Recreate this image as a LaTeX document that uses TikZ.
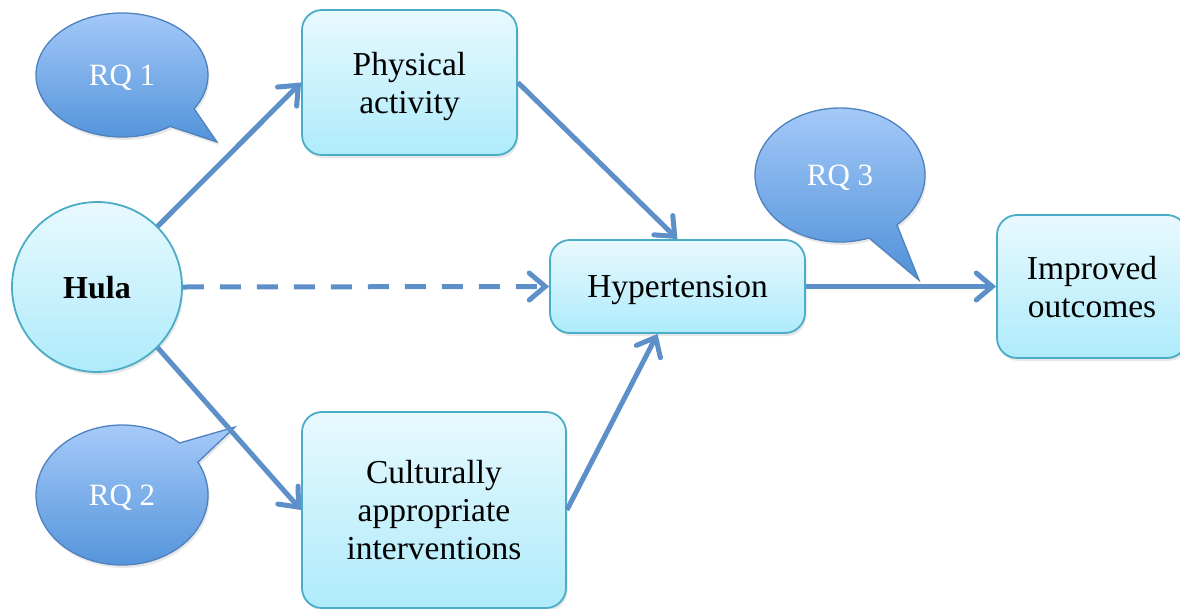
\documentclass[tikz,border=0pt]{standalone}
\usepackage{fontspec}
\setmainfont{Liberation Serif}
\usetikzlibrary{arrows.meta,shadows,calc}
\definecolor{lineblue}{RGB}{93,143,201}
\definecolor{boxborder}{RGB}{75,172,198}
\definecolor{boxtop}{RGB}{232,249,254}
\definecolor{boxbot}{RGB}{174,235,251}
\definecolor{bubtop}{RGB}{168,204,250}
\definecolor{bubbot}{RGB}{80,145,217}
\definecolor{bubborder}{RGB}{79,129,189}
\tikzset{
  boxnode/.style={draw=boxborder, line width=1.8pt, rounded corners=20pt,
    top color=boxtop, bottom color=boxbot, align=center, inner sep=0pt,
    text depth=0pt, font=\fontsize{33.5}{38}\selectfont,
    drop shadow={shadow xshift=1.5pt, shadow yshift=-3pt, opacity=0.18}},
  hulanode/.style={circle, draw=boxborder, line width=1.8pt,
    top color=boxtop, bottom color=boxbot, minimum size=170pt, inner sep=0pt,
    text depth=0pt, font=\fontsize{32}{38}\selectfont\bfseries,
    drop shadow={shadow xshift=1.5pt, shadow yshift=-3pt, opacity=0.18}},
  bubble/.style={draw=bubborder, line width=1.3pt, top color=bubtop, bottom color=bubbot,
    drop shadow={shadow xshift=1.5pt, shadow yshift=-3pt, opacity=0.18}},
  rqtext/.style={text=white, font=\fontsize{31}{36}\selectfont, inner sep=0pt, text depth=0pt},
  arr/.style={draw=lineblue, line width=5pt,
    -{Straight Barb[length=16pt,width=27pt,line cap=round]}},
  dasharr/.style={arr, dash pattern=on 21pt off 16pt}
}
\begin{document}
\begin{tikzpicture}[x=1pt,y=-1pt]
\useasboundingbox (0,0) rectangle (1180,608);
% nodes
\node[hulanode] (hula) at (97,287) {Hula};
\node[boxnode, minimum width=215pt, minimum height=145pt] (phys) at (409.5,82.5) {Physical\\activity};
\node[boxnode, minimum width=255pt, minimum height=93pt] (hyp) at (677.5,286.5) {Hypertension};
\node[boxnode, minimum width=190pt, minimum height=143pt] (impr) at (1092,286.5) {Improved\\outcomes};
\node[boxnode, minimum width=264pt, minimum height=196pt] (cult) at (434,510) {Culturally\\appropriate\\interventions};
% bubbles
\coordinate (c1) at (122,75);
\coordinate (t1) at (217,142);
\draw[bubble] ($(c1)+(33:86 and 62)$) -- (t1) -- ($(c1)+(56:86 and 62)$)
  arc[start angle=56, end angle=393, x radius=86, y radius=62] -- cycle;
\node[rqtext] (rq1) at (c1) {RQ 1};
\coordinate (c2) at (122,495);
\coordinate (t2) at (235,427);
\draw[bubble] ($(c2)+(-48:86 and 70)$) -- (t2) -- ($(c2)+(-28:86 and 70)$)
  arc[start angle=-28, end angle=312, x radius=86, y radius=70] -- cycle;
\node[rqtext] (rq2) at (c2) {RQ 2};
\coordinate (c3) at (840,175);
\coordinate (t3) at (919,280);
\draw[bubble] ($(c3)+(48:85 and 67)$) -- (t3) -- ($(c3)+(70:85 and 67)$)
  arc[start angle=70, end angle=408, x radius=85, y radius=67] -- cycle;
\node[rqtext] (rq3) at (c3) {RQ 3};
% connectors
\draw[arr] (hula.45) -- (phys.west);
\draw[arr] (hula.-45) -- (cult.west);
\draw[dasharr] (hula.east) -- (hyp.west);
\draw[arr] (phys.east) -- (hyp.north);
\draw[arr] (cult.east) -- ($(hyp.south)+(-20,0)$);
\draw[arr] (hyp.east) -- (impr.west);
\end{tikzpicture}
\end{document}
